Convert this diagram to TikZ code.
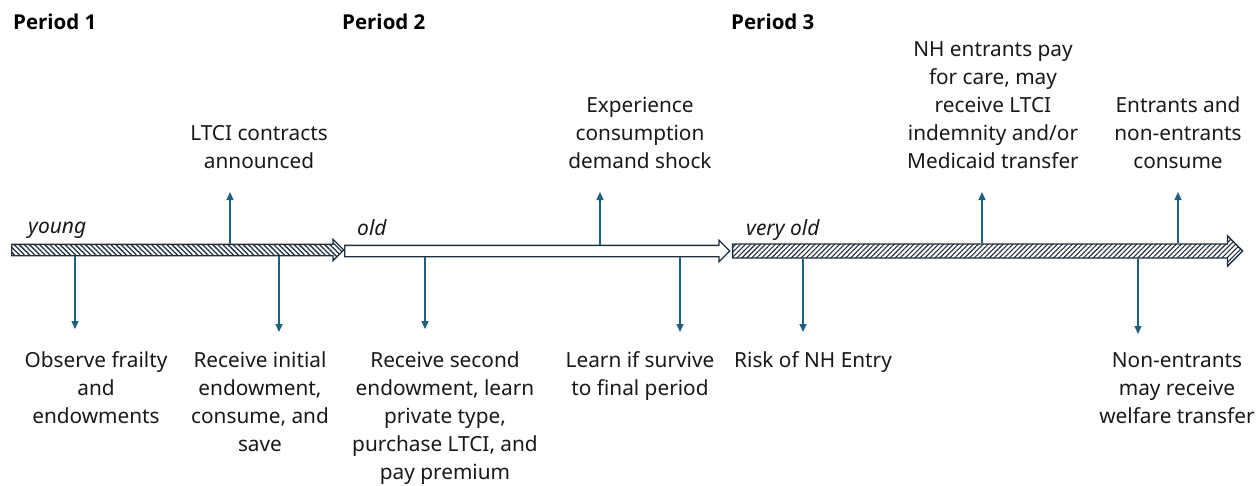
\documentclass[tikz,border=0pt]{standalone}
\usepackage{fontspec}
\setmainfont{Noto Sans}
\newfontfamily\headfont{Open Sans}
\usetikzlibrary{arrows.meta,shapes.arrows,patterns.meta}

\definecolor{barline}{RGB}{33,47,61}
\definecolor{tickblue}{RGB}{30,96,128}
\definecolor{ink}{RGB}{25,25,25}

\begin{document}
\begin{tikzpicture}[x=1pt, y=-1pt,
  stage/.style={single arrow, draw=barline, line width=1.3pt, anchor=west,
                inner xsep=0pt, inner ysep=5pt, text height=0pt, text depth=0pt,
                single arrow head extend=5pt, single arrow tip angle=90},
  evt/.style={font=\fontsize{20.8}{28}\selectfont, align=center, inner sep=0pt,
              anchor=base, text=ink},
  period/.style={font=\headfont\fontsize{20.5}{24}\selectfont\bfseries, anchor=base west,
                 inner sep=0pt, text=black},
  age/.style={font=\fontsize{21}{24}\selectfont\itshape, anchor=base west,
              inner sep=0pt, text=ink},
  up/.style={draw=tickblue, line width=1.2pt, -{Triangle[width=7pt,length=8pt]}},
  down/.style={up}
]
  \useasboundingbox (0,0) rectangle (1259,485);

  % the three life stages
  \node[stage, minimum height=332pt,
        pattern={Lines[angle=-45,distance=3.6pt,line width=1.3pt]},
        pattern color=barline] (young) at (11,250) {};
  \node[stage, minimum height=385pt, fill=white] (old) at (344,251) {};
  \node[stage, minimum height=510pt, inner ysep=6.5pt, single arrow head extend=8pt,
        pattern={Lines[angle=45,distance=3.5pt,line width=1.1pt]},
        pattern color=barline] (veryold) at (732,251) {};

  \node[period] (p1) at (13,29)  {Period 1};
  \node[period] (p2) at (342,29) {Period 2};
  \node[period] (p3) at (731,29) {Period 3};

  \node[age] (a1) at (28,233)  {young};
  \node[age] (a2) at (357,235) {old};
  \node[age] (a3) at (746,235) {very old};

  % events above the line (base = last line)
  \node[evt] (e1) at (259,168)  {LTCI contracts\\announced};
  \node[evt] (e2) at (640,168)  {Experience\\consumption\\demand shock};
  \node[evt] (e3) at (993,168)  {NH entrants pay\\for care, may\\receive LTCI\\indemnity and/or\\Medicaid transfer};
  \node[evt] (e4) at (1178,168) {Entrants and\\non-entrants\\consume};

  % events below the line
  \node[evt] (f1) at (96,423)   {Observe frailty\\and\\endowments};
  \node[evt] (f2) at (260,451)  {Receive initial\\endowment,\\consume, and\\save};
  \node[evt] (f3) at (445,479)  {Receive second\\endowment, learn\\private type,\\purchase LTCI, and\\pay premium};
  \node[evt] (f4) at (640,395)  {Learn if survive\\to final period};
  \node[evt, anchor=base west] (f5) at (734,367) {Risk of NH Entry};
  \node[evt] (f6) at (1177,423) {Non-entrants\\may receive\\welfare transfer};

  % arrow ends
  \coordinate (t1) at (230,192);
  \coordinate (t2) at (600,192);
  \coordinate (t3) at (982,192);
  \coordinate (t4) at (1178,192);
  \coordinate (b1) at (75,329);
  \coordinate (b2) at (279,332);
  \coordinate (b3) at (425,329);
  \coordinate (b4) at (680,332);
  \coordinate (b5) at (803,332);
  \coordinate (b6) at (1138,334);

  \draw[up] (t1 |- young.north) -- (t1);
  \draw[up] (t2 |- old.north) -- (t2);
  \draw[up] (t3 |- veryold.north) -- (t3);
  \draw[up] (t4 |- veryold.north) -- (t4);

  \draw[down] (b1 |- young.south) -- (b1);
  \draw[down] (b2 |- young.south) -- (b2);
  \draw[down] (b3 |- old.south) -- (b3);
  \draw[down] (b4 |- old.south) -- (b4);
  \draw[down] (b5 |- veryold.south) -- (b5);
  \draw[down] (b6 |- veryold.south) -- (b6);
\end{tikzpicture}
\end{document}
